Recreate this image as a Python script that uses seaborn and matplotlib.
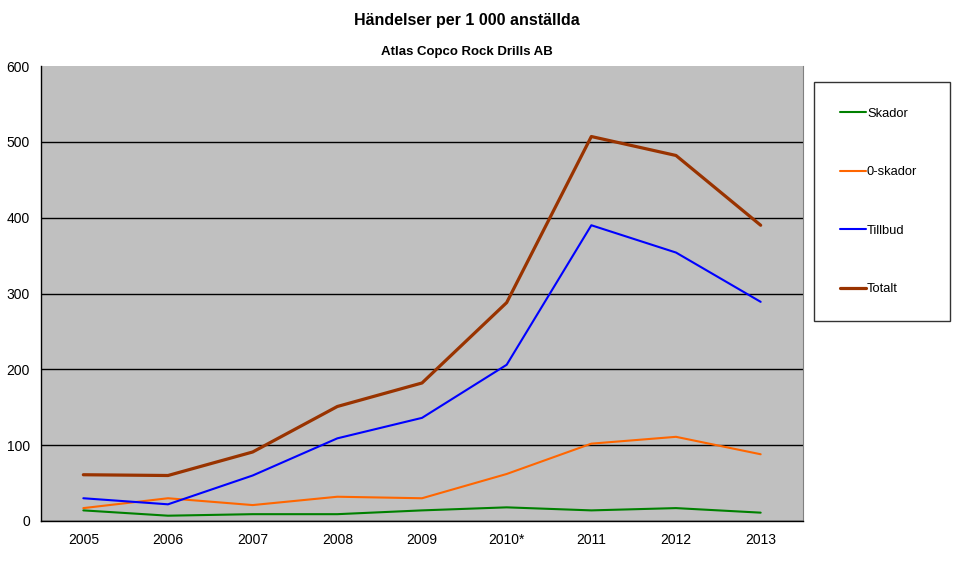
import matplotlib
matplotlib.use("Agg")
import matplotlib.pyplot as plt
import seaborn as sns
import pandas as pd
import numpy as np

years = ["2005", "2006", "2007", "2008", "2009", "2010*", "2011", "2012", "2013"]
skador = [14, 7, 9, 9, 14, 18, 14, 17, 11]
noll_skador = [17, 30, 21, 32, 30, 62, 102, 111, 88]
tillbud = [30, 22, 60, 109, 136, 206, 390, 354, 289]
totalt = [61, 60, 91, 151, 182, 288, 507, 482, 390]

series_names = ["Skador", "0-skador", "Tillbud", "Totalt"]
colors = ["#008000", "#FF6600", "#0000FF", "#993300"]
widths = [1.5, 1.5, 1.5, 2.3]

sns.set_style("white")
plt.rcParams["font.family"] = ["Liberation Sans", "DejaVu Sans"]
plt.rcParams["text.color"] = "black"
plt.rcParams["xtick.color"] = "black"
plt.rcParams["ytick.color"] = "black"

rows = []
for name, vals in zip(series_names, [skador, noll_skador, tillbud, totalt]):
    for i, v in enumerate(vals):
        rows.append({"pos": i, "year": years[i], "value": v, "serie": name})
df = pd.DataFrame(rows)

fig = plt.figure(figsize=(9.57, 5.87), dpi=100)
ax = fig.add_axes([41 / 957, 1 - 521 / 587, (803 - 41) / 957, (521 - 66) / 587])
ax.set_facecolor("#C0C0C0")

for name, col, lw in zip(series_names, colors, widths):
    sub = df[df["serie"] == name]
    sns.lineplot(data=sub, x="pos", y="value", color=col, linewidth=lw, ax=ax,
                 label=name, legend=False)

ax.set_xlim(-0.5, len(years) - 0.5)
ax.set_ylim(0, 600)
ax.set_yticks(np.arange(0, 601, 100))
ax.yaxis.grid(True, color="black", linewidth=1)
ax.xaxis.grid(False)
ax.set_axisbelow(True)

ax.set_xticks(np.arange(len(years)))
ax.set_xticklabels(years)
ax.set_xticks(np.arange(-0.5, len(years), 1.0), minor=True)
ax.tick_params(axis="x", which="major", length=0, labelsize=10, pad=9, labelcolor="black")
ax.tick_params(axis="x", which="minor", length=5, width=1, color="black", direction="out")
ax.tick_params(axis="y", which="major", length=5, width=1, color="black", direction="out",
               labelsize=10, pad=3, labelcolor="black")
ax.set_xlabel("")
ax.set_ylabel("")

for s in ["left", "bottom"]:
    ax.spines[s].set_color("black")
    ax.spines[s].set_linewidth(1)
ax.spines["top"].set_visible(False)
ax.spines["right"].set_color("#808080")
ax.spines["right"].set_linewidth(0.8)

fig.canvas.draw()
gl = ax.yaxis.get_gridlines()
gl[-1].set_visible(False)

fig.text(467 / 957, 1 - 21 / 587, "Händelser per 1 000 anställda", ha="center", va="center",
         fontsize=11.5, fontweight="bold", color="black")
fig.text(467 / 957, 1 - 52 / 587, "Atlas Copco Rock Drills AB", ha="center", va="center",
         fontsize=9.5, fontweight="bold", color="black")

handles, labels = ax.get_legend_handles_labels()
leg = fig.legend(handles, labels, loc="upper left",
                 bbox_to_anchor=(814 / 957, 1 - 320 / 587, 136 / 957, 238 / 587),
                 mode="expand",
                 fontsize=9.3, frameon=True, fancybox=False, borderpad=2.0,
                 labelspacing=3.6, handlelength=2.0, handletextpad=0.1,
                 borderaxespad=0)
leg.get_frame().set_edgecolor("black")
leg.get_frame().set_linewidth(1)
for t in leg.get_texts():
    t.set_color("black")

fig.savefig("out.png", dpi=100)
